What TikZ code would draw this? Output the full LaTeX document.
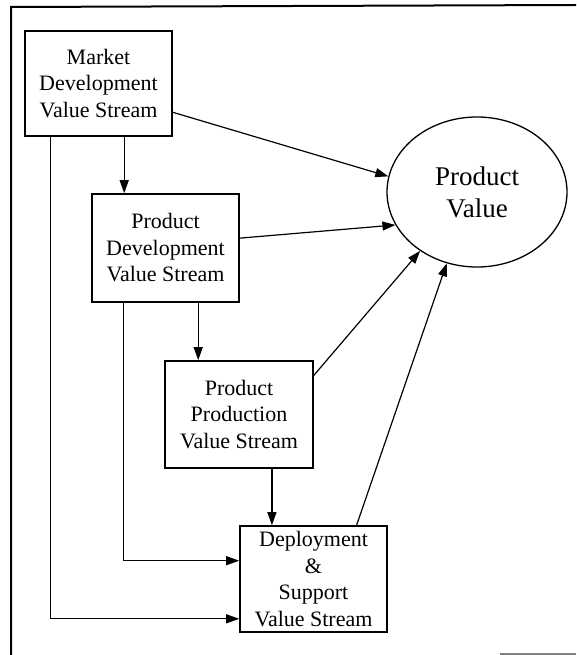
\documentclass[tikz,border=0pt]{standalone}
\usepackage{fontspec}
\setmainfont{Liberation Serif}
\usetikzlibrary{arrows.meta,calc,shapes.geometric}
\begin{document}
\begin{tikzpicture}[x=1pt,y=-1pt,
  box/.style={draw,line width=1.6pt,inner sep=0pt,align=center,
    font=\fontsize{22}{26.5}\selectfont},
  ell/.style={draw,ellipse,line width=1.3pt,inner sep=0pt,align=center,
    minimum width=180pt,minimum height=150pt,
    font=\fontsize{27}{32}\selectfont},
  conn/.style={line width=1.2pt,-{Triangle[length=13pt,width=9pt]}},
  frame/.style={line width=2pt}]
\useasboundingbox (0,0) rectangle (576,655);
% frame
\draw[frame] (11,655) -- (11,7) -- (576,5);
\draw[gray,line width=1.2pt] (500,654) -- (576,654);
% nodes
\node[box,minimum width=147pt,minimum height=105pt] (mkt) at (98.5,83.5)
  {Market\\Development\\Value Stream};
\node[box,minimum width=147pt,minimum height=108pt] (pd) at (165.5,248)
  {Product\\Development\\Value Stream};
\node[box,minimum width=148pt,minimum height=107pt] (pp) at (239,414.5)
  {Product\\Production\\Value Stream};
\node[box,minimum width=147pt,minimum height=106pt] (dep) at (313.5,579)
  {Deployment\\\&\\Support\\Value Stream};
\node[ell] (pv) at (477,192) {Product\\Value};
% connectors to Product Value
\draw[conn] ($(mkt.south east)!0.23!(mkt.north east)$) -- (pv.170.5);
\draw[conn] ($(pd.south east)!0.59!(pd.north east)$) -- (pv.202.5);
\draw[conn] ($(pp.north east)!0.14!(pp.south east)$) -- (pv.226.4);
\draw[conn] ($(dep.north west)!0.79!(dep.north east)$) -- (pv.247.2);
% vertical flow
\coordinate (m1) at ($(mkt.south west)!0.673!(mkt.south east)$);
\draw[conn] (m1) -- (m1 |- pd.north);
\coordinate (p1) at ($(pd.south west)!0.72!(pd.south east)$);
\draw[conn] (p1) -- (p1 |- pp.north);
\coordinate (q1) at ($(pp.south west)!0.72!(pp.south east)$);
\draw[conn] (q1) -- (q1 |- dep.north);
% bypass lines
\coordinate (m2) at ($(mkt.south west)!0.177!(mkt.south east)$);
\draw[conn] (m2) |- ($(dep.south west)!0.13!(dep.north west)$);
\coordinate (p2) at ($(pd.south west)!0.218!(pd.south east)$);
\draw[conn] (p2) |- ($(dep.south west)!0.67!(dep.north west)$);
\end{tikzpicture}
\end{document}
